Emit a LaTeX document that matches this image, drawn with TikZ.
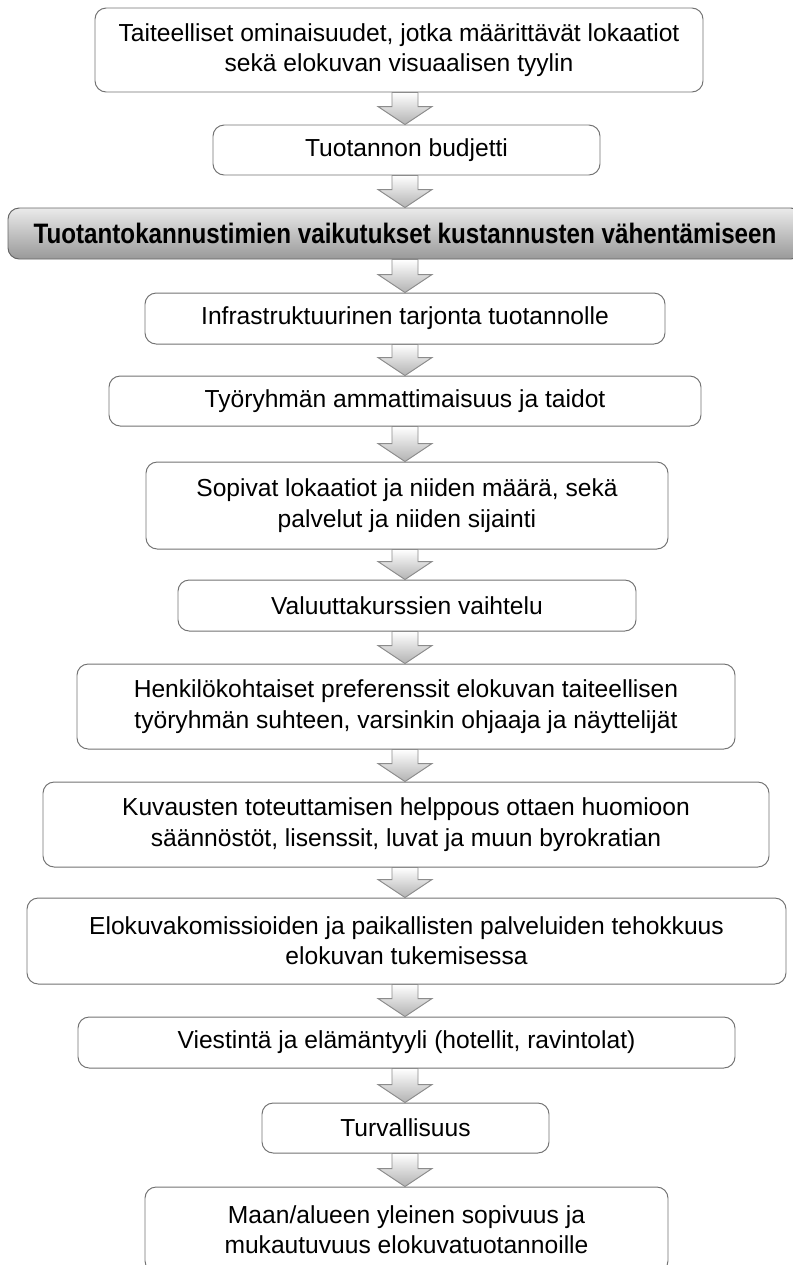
\documentclass[tikz,border=0pt]{standalone}
\usepackage{fontspec}
\setmainfont{Liberation Sans}
\usepackage{graphicx}
\usetikzlibrary{calc}
\begin{document}
\begin{tikzpicture}[x=0.025cm,y=-0.025cm]
            \useasboundingbox (0,0) rectangle (792,1265);
            \tikzset{
                box/.style={draw=black!55, line width=0.7pt, fill=white, rounded corners=0.28cm, align=center, inner sep=0pt, font=\fontsize{17.5}{21.6}\selectfont},
                boxsize/.style 2 args={minimum width=#1*0.025cm, minimum height=#2*0.025cm},
                heading/.style={draw=black!60, top color=black!8, bottom color=black!40},
                downarrow/.style={draw=black!45, line width=0.7pt, top color=white, bottom color=black!30, line join=miter}
            }
            \begin{scope}[every node/.style={box}]
                \node[boxsize={608}{84}] (1) at (399, 50) {Taiteelliset ominaisuudet, jotka määrittävät lokaatiot\\sekä elokuvan visuaalisen tyylin};
                \node[boxsize={387}{50}] (2) at (406.5, 150) {Tuotannon budjetti};
                \node[boxsize={794}{51}, heading] (3) at (405, 233.5) {\scalebox{0.86}[1]{\fontsize{20}{24}\selectfont\bfseries Tuotantokannustimien vaikutukset kustannusten vähentämiseen}};
                \node[boxsize={520}{51}] (4) at (405, 318.5) {Infrastruktuurinen tarjonta tuotannolle};
                \node[boxsize={592}{50}] (5) at (405, 401) {Työryhmän ammattimaisuus ja taidot};
                \node[boxsize={522}{87}] (6) at (407, 505.5) {Sopivat lokaatiot ja niiden määrä, sekä\\palvelut ja niiden sijainti};
                \node[boxsize={458}{51}] (7) at (407, 605.5) {Valuuttakurssien vaihtelu};
                \node[boxsize={658}{85}] (8) at (406, 706.5) {Henkilökohtaiset preferenssit elokuvan taiteellisen\\työryhmän suhteen, varsinkin ohjaaja ja näyttelijät};
                \node[boxsize={726}{85}] (9) at (406, 824.5) {Kuvausten toteuttamisen helppous ottaen huomioon\\säännöstöt, lisenssit, luvat ja muun byrokratian};
                \node[boxsize={759}{86}] (10) at (406.5, 941) {Elokuvakomissioiden ja paikallisten palveluiden tehokkuus\\elokuvan tukemisessa};
                \node[boxsize={657}{51}] (11) at (406.5, 1042.5) {Viestintä ja elämäntyyli (hotellit, ravintolat)};
                \node[boxsize={287}{50}] (12) at (405.5, 1128) {Turvallisuus};
                \node[boxsize={523}{85}] (13) at (406.5, 1229.5) {Maan/alueen yleinen sopivuus ja\\mukautuvuus elokuvatuotannoille};
            \end{scope}
            \coordinate (axis) at (405, 0);

            % block arrows between the boxes
            \foreach \a/\b in {1/2, 2/3, 3/4, 4/5, 5/6, 6/7, 7/8, 8/9, 9/10, 10/11, 11/12, 12/13}
                \path[downarrow] ($(axis |- \a.south)+(-13,0)$) -- ($(axis |- \b.north)+(-13,-18)$)
                    -- ($(axis |- \b.north)+(-27,-18)$) -- (axis |- \b.north)
                    -- ($(axis |- \b.north)+(27,-18)$) -- ($(axis |- \b.north)+(13,-18)$)
                    -- ($(axis |- \a.south)+(13,0)$) -- cycle;
        \end{tikzpicture}
\end{document}
